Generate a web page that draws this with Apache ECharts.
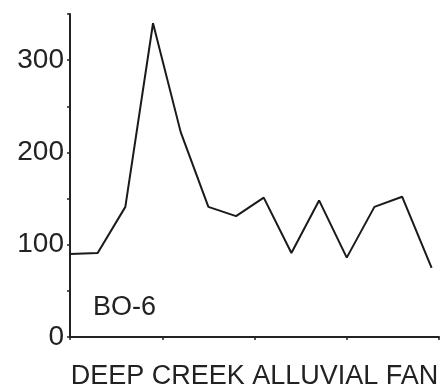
<!DOCTYPE html>
<html>
<head>
<meta charset="utf-8">
<script src="https://cdn.jsdelivr.net/npm/echarts@6/dist/echarts.min.js"></script>
<style>html,body{margin:0;padding:0;background:#fff}#c{width:444px;height:391px}</style>
</head>
<body>
<div id="c"></div>
<script>
var xPositions = [0, 30, 60, 90, 120, 150, 180, 210, 240, 270, 300, 330, 360, 392];
var values = [90, 91, 141, 340, 222, 141, 131, 151, 91, 148, 86, 141, 152, 75];
var yTickLabels = [0, 100, 200, 300];
var xAxisTitle = 'DEEP CREEK ALLUVIAL FAN';
var sampleLabel = 'BO-6';

var data = xPositions.map(function (x, i) { return [x, values[i]]; });
var chart = echarts.init(document.getElementById('c'));
chart.setOption({
  animation: false,
  backgroundColor: '#fff',
  grid: { left: 70, right: 5, top: 14, bottom: 54, containLabel: false, outerBoundsMode: 'none' },
  xAxis: {
    type: 'value', min: 0, max: 400, interval: 100,
    axisLine: { show: true, lineStyle: { color: '#222', width: 2 } },
    axisTick: { show: true, length: 3, lineStyle: { color: '#222', width: 1.5 } },
    axisLabel: { show: false },
    splitLine: { show: false },
    name: xAxisTitle, nameLocation: 'middle', nameGap: 26,
    nameTextStyle: { fontFamily: 'Liberation Sans', fontSize: 27, color: '#222' }
  },
  yAxis: {
    type: 'value', min: 0, max: 350, interval: 50,
    axisLine: { show: true, lineStyle: { color: '#222', width: 2 } },
    axisTick: { show: true, length: 3, lineStyle: { color: '#222', width: 1.5 } },
    axisLabel: {
      margin: 6, fontFamily: 'Liberation Sans', fontSize: 28, color: '#222',
      formatter: function (v) { return yTickLabels.indexOf(v) >= 0 ? String(v) : ''; }
    },
    splitLine: { show: false }
  },
  graphic: [{
    type: 'text', left: 93, top: 294,
    style: { text: sampleLabel, fontFamily: 'Liberation Sans', fontSize: 27, fill: '#222' }
  }],
  series: [{
    type: 'line', data: data, symbol: 'none',
    lineStyle: { color: '#1a1a1a', width: 2 }
  }]
});
</script>
</body>
</html>
